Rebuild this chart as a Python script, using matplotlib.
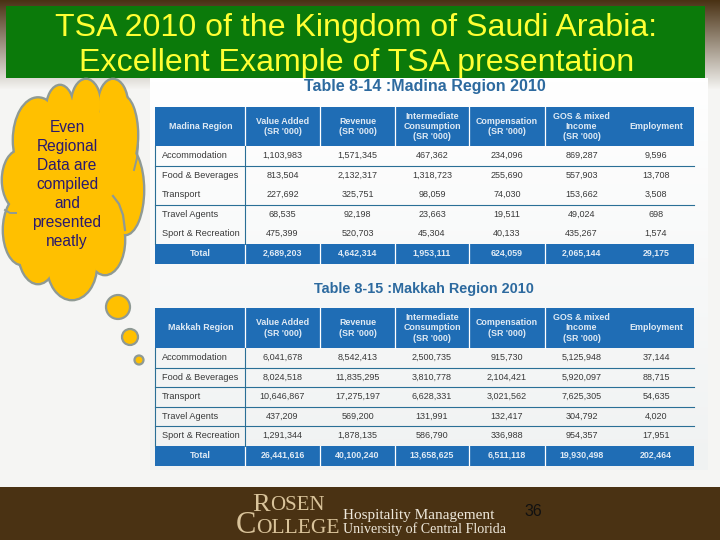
import matplotlib
matplotlib.use('Agg')
import matplotlib.pyplot as plt
import numpy as np
from matplotlib.patches import Ellipse, Rectangle

plt.rcParams['font.family'] = ['Liberation Sans', 'DejaVu Sans']

title_lines = ['TSA 2010 of the Kingdom of Saudi Arabia:', 'Excellent Example of TSA presentation']
cloud_lines = ['Even', 'Regional', 'Data are', 'compiled', 'and', 'presented', 'neatly']

sectors = ['Accommodation', 'Food & Beverages', 'Transport', 'Travel Agents', 'Sport & Recreation']
columns = ["Value Added\n(SR '000)", "Revenue\n(SR '000)", "Intermediate\nConsumption\n(SR '000)",
           "Compensation\n(SR '000)", "GOS & mixed\nIncome\n(SR '000)", 'Employment']

madina_rows = [
    ['1,103,983', '1,571,345', '467,362', '234,096', '869,287', '9,596'],
    ['813,504', '2,132,317', '1,318,723', '255,690', '557,903', '13,708'],
    ['227,692', '325,751', '98,059', '74,030', '153,662', '3,508'],
    ['68,535', '92,198', '23,663', '19,511', '49,024', '698'],
    ['475,399', '520,703', '45,304', '40,133', '435,267', '1,574'],
]
madina_total = ['2,689,203', '4,642,314', '1,953,111', '624,059', '2,065,144', '29,175']

makkah_rows = [
    ['6,041,678', '8,542,413', '2,500,735', '915,730', '5,125,948', '37,144'],
    ['8,024,518', '11,835,295', '3,810,778', '2,104,421', '5,920,097', '88,715'],
    ['10,646,867', '17,275,197', '6,628,331', '3,021,562', '7,625,305', '54,635'],
    ['437,209', '569,200', '131,991', '132,417', '304,792', '4,020'],
    ['1,291,344', '1,878,135', '586,790', '336,988', '954,357', '17,951'],
]
makkah_total = ['26,441,616', '40,100,240', '13,658,625', '6,511,118', '19,930,498', '202,464']

BLUE = '#1f6db5'
LINE = '#2a6f96'
TEXT = '#3a3a3a'
HEAD = '#dfeaf4'
col_edges = [155, 245, 320, 395, 469, 545, 618, 694]


def draw_table(ax, top, header_h, row_h, name, rows, total, lines_after):
    head_bottom = top + header_h
    body_bottom = head_bottom + row_h * len(rows)
    left, right = col_edges[0], col_edges[-1]
    ax.add_patch(Rectangle((left, top), right - left, header_h, color=BLUE, lw=0))
    ax.add_patch(Rectangle((left, body_bottom), right - left, row_h + 1, color=BLUE, lw=0))
    ax.plot([left, left], [head_bottom, body_bottom], color=LINE, lw=0.8)
    # no divider before the Employment column
    for x in col_edges[1:-2]:
        ax.plot([x, x], [top, head_bottom], color='white', lw=0.9)
        ax.plot([x, x], [body_bottom, body_bottom + row_h], color='white', lw=0.9)
    ax.plot([col_edges[1]] * 2, [head_bottom, body_bottom], color=LINE, lw=0.8)
    for i in lines_after:
        y = head_bottom + row_h * i
        ax.plot([left, right], [y, y], color=LINE, lw=0.8)

    mid = [(a + b) / 2 for a, b in zip(col_edges[:-1], col_edges[1:])]
    head_y = top + header_h / 2
    ax.text(mid[0] + 1, head_y, name, color=HEAD, fontsize=6.4, fontweight='bold', ha='center', va='center')
    for x, label in zip(mid[1:], columns):
        ax.text(x, head_y, label, color=HEAD, fontsize=6.4, fontweight='bold', ha='center',
                va='center', linespacing=1.15)
    for i, (sector, row) in enumerate(zip(sectors, rows)):
        y = head_bottom + row_h * (i + 0.5)
        ax.text(left + 7, y, sector, color=TEXT, fontsize=6.6, ha='left', va='center')
        for x, val in zip(mid[1:], row):
            ax.text(x, y, val, color=TEXT, fontsize=6.5, ha='center', va='center')
    y = body_bottom + row_h * 0.5
    ax.text(mid[0], y, 'Total', color=HEAD, fontsize=6.4, fontweight='bold', ha='center', va='center')
    for x, val in zip(mid[1:], total):
        ax.text(x, y, val, color=HEAD, fontsize=6.4, fontweight='bold', ha='center', va='center')


def draw_cloud(ax):
    bumps = [(38, 140, 50, 85), (60, 110, 28, 50), (86, 105, 30, 52), (113, 105, 30, 52),
             (122, 135, 32, 80), (125, 190, 38, 90), (105, 240, 40, 70), (72, 265, 50, 70),
             (38, 250, 40, 68), (22, 230, 38, 70), (20, 180, 36, 60)]
    for x, y, w, h in bumps:
        ax.add_patch(Ellipse((x, y), w, h, fc='#ffc000', ec='#8f9a94', lw=2.0, zorder=3))
    for x, y, w, h in bumps:
        ax.add_patch(Ellipse((x, y), w - 2, h - 2, fc='#ffc000', ec='none', zorder=4))
    ax.add_patch(Ellipse((72, 185), 106, 170, fc='#ffc000', ec='none', zorder=4))
    # inner fold lines of the bubble
    ax.plot([113, 119, 123, 125], [196, 204, 215, 230], color='#8f9a94', lw=1.6, zorder=4.5)
    ax.plot([5, 10, 16], [210, 213, 213], color='#8f9a94', lw=1.4, zorder=4.5)
    ax.plot([134, 137, 138], [170, 158, 145], color='#8f9a94', lw=1.4, zorder=4.5)
    for x, y, d in [(118, 307, 24), (130, 337, 16), (139, 360, 9)]:
        ax.add_patch(Ellipse((x, y), d, d, fc='#ffc000', ec='#8f9a94', lw=1.6, zorder=3))
    for i, line in enumerate(cloud_lines):
        ax.text(67, 127 + i * 19.1, line, color='#2a1a6e', fontsize=11.2, ha='center', va='center', zorder=5)


fig = plt.figure(figsize=(7.2, 5.4), dpi=100)
ax = fig.add_axes([0, 0, 1, 1])

# slide background
ax.add_patch(Rectangle((0, 0), 720, 540, color='#f5f5f3', lw=0, zorder=0))
top_shade = np.linspace(0, 1, 90).reshape(-1, 1, 1)
brown = np.array([0x4a, 0x32, 0x14]).reshape(1, 1, 3) / 255
light = np.array([0xf5, 0xf5, 0xf3]).reshape(1, 1, 3) / 255
ax.imshow(brown + (light - brown) * top_shade, extent=(0, 720, 90, 0), aspect='auto', zorder=0.5)
panel_shade = np.linspace(0, 1, 100).reshape(-1, 1, 1)
white = np.array([1.0, 1.0, 1.0]).reshape(1, 1, 3)
grey = np.array([0xf0, 0xf2, 0xf2]).reshape(1, 1, 3) / 255
ax.imshow(white + (grey - white) * panel_shade, extent=(150, 708, 470, 78), aspect='auto', zorder=0.6)
ax.add_patch(Rectangle((0, 487), 720, 53, color='#4a3213', lw=0, zorder=1))
ax.set_xlim(0, 720)
ax.set_ylim(540, 0)
ax.axis('off')

# title bar
ax.add_patch(Rectangle((6, 6), 699, 72, color='#0b7a0a', lw=0, zorder=1))
ax.text(356, 28, title_lines[0], color='#ffff33', fontsize=23.1, ha='center', va='center', zorder=2)
ax.text(357, 63, title_lines[1], color='#ffff33', fontsize=23.1, ha='center', va='center', zorder=2)

# tables
ax.text(425, 87, 'Table 8-14 :Madina Region 2010', color='#2d6a9f', fontsize=11.5, fontweight='bold',
        ha='center', va='center')
draw_table(ax, 107, 39, 19.5, 'Madina Region', madina_rows, madina_total, [1, 3])
ax.text(424, 289, 'Table 8-15 :Makkah Region 2010', color='#2d6a9f', fontsize=10.4, fontweight='bold',
        ha='center', va='center')
draw_table(ax, 308, 40, 19.5, 'Makkah Region', makkah_rows, makkah_total, [1, 2, 3, 4])

draw_cloud(ax)

# footer logo
TAN = '#d9c39a'
ax.text(252, 511, 'R', color=TAN, fontsize=19, family='Liberation Serif', ha='left', va='baseline', zorder=2)
ax.text(270, 510, 'OSEN', color=TAN, fontsize=15, family='Liberation Serif', ha='left', va='baseline', zorder=2)
ax.text(236, 533, 'C', color=TAN, fontsize=22, family='Liberation Serif', ha='left', va='baseline', zorder=2)
ax.text(256, 533, 'OLLEGE', color=TAN, fontsize=15.5, family='Liberation Serif', ha='left', va='baseline', zorder=2)
ax.text(343, 519, 'Hospitality Management', color='#efe9dc', fontsize=11, family='Liberation Serif',
        ha='left', va='baseline', zorder=2)
ax.text(343, 533, 'University of Central Florida', color='#efe9dc', fontsize=10.1, family='Liberation Serif',
        ha='left', va='baseline', zorder=2)
ax.text(533, 511, '36', color='#111111', fontsize=11.5, ha='center', va='center', zorder=2)

fig.savefig('out.png', dpi=100)
